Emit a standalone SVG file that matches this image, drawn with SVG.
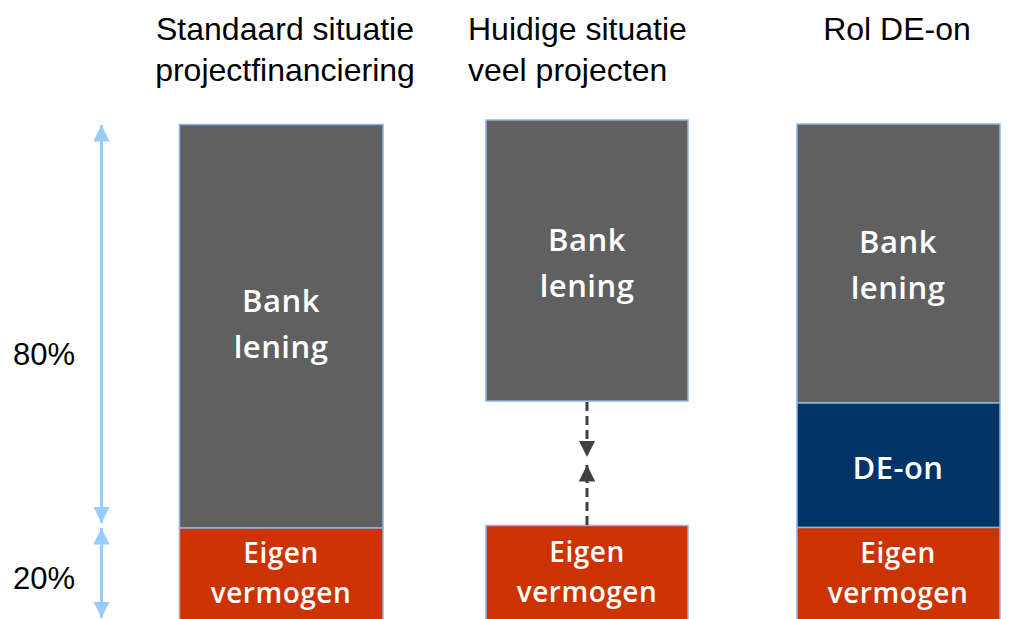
<svg xmlns="http://www.w3.org/2000/svg" width="1034" height="619" viewBox="0 0 1034 619">
<defs>
<style>
.title{font-family:"Liberation Sans",Arial,sans-serif;font-size:32px;fill:#000}
.pct{font-family:"Liberation Sans",Arial,sans-serif;font-size:31px;fill:#000}
.lbl{font-family:"Open Sans","Noto Sans",sans-serif;font-size:31px;font-weight:600;fill:#fff;text-anchor:middle;letter-spacing:0.5px}
.lbl2{font-family:"Open Sans","Noto Sans",sans-serif;font-size:28px;font-weight:600;fill:#fff;text-anchor:middle;letter-spacing:0.5px}
.bank{fill:#606060;stroke:#8EB4E3;stroke-width:1.5}
.eigen{fill:#CC3300;stroke:#8EB4E3;stroke-width:1.5}
.deon{fill:#003366;stroke:#8EB4E3;stroke-width:1.5}
.blue{stroke:#99CCFF;stroke-width:3;fill:none}
.dash{stroke:#404040;stroke-width:3;fill:none;stroke-dasharray:9,5}
</style>
<marker id="ab" viewBox="0 0 10 10" refX="10" refY="5" markerWidth="5.5" markerHeight="5.5" markerUnits="strokeWidth" orient="auto-start-reverse"><path d="M0,0 L10,5 L0,10 z" fill="#99CCFF"/></marker>
<marker id="ad" viewBox="0 0 10 10" refX="10" refY="5" markerWidth="5.5" markerHeight="5.5" markerUnits="strokeWidth" orient="auto"><path d="M0,0 L10,5 L0,10 z" fill="#404040"/></marker>
</defs>
<rect width="1034" height="619" fill="#fff"/>
<g id="titles">
<text class="title" x="285" y="40" text-anchor="middle">Standaard situatie</text>
<text class="title" x="285" y="81" text-anchor="middle">projectfinanciering</text>
<text class="title" x="468" y="40">Huidige situatie</text>
<text class="title" x="468" y="81">veel projecten</text>
<text class="title" x="897" y="40" text-anchor="middle">Rol DE-on</text>
</g>
<g id="percentages">
<text class="pct" x="13" y="365">80%</text>
<text class="pct" x="13" y="589">20%</text>
</g>
<g id="col1-bank">
<rect class="bank" x="179.5" y="124.5" width="203.5" height="403.5"/>
<text class="lbl" x="281" y="312">Bank</text>
<text class="lbl" x="281" y="358">lening</text>
</g>
<g id="col1-eigen">
<rect class="eigen" x="179.5" y="528" width="203.5" height="100"/>
<text class="lbl2" x="281" y="563">Eigen</text>
<text class="lbl2" x="281" y="603">vermogen</text>
</g>
<g id="col2-bank">
<rect class="bank" x="486" y="120" width="202" height="281"/>
<text class="lbl" x="587" y="251">Bank</text>
<text class="lbl" x="587" y="297">lening</text>
</g>
<g id="col2-eigen">
<rect class="eigen" x="486" y="525.5" width="202" height="100"/>
<text class="lbl2" x="587" y="562">Eigen</text>
<text class="lbl2" x="587" y="602">vermogen</text>
</g>
<g id="col3-bank">
<rect class="bank" x="797" y="124" width="203" height="279"/>
<text class="lbl" x="898" y="253">Bank</text>
<text class="lbl" x="898" y="299">lening</text>
</g>
<g id="col3-deon">
<rect class="deon" x="797" y="403" width="203" height="124.5"/>
<text class="lbl" x="898" y="479">DE-on</text>
</g>
<g id="col3-eigen">
<rect class="eigen" x="797" y="527.5" width="203" height="100"/>
<text class="lbl2" x="898" y="563">Eigen</text>
<text class="lbl2" x="898" y="603">vermogen</text>
</g>
<g id="connectors">
<line class="blue" x1="101.5" y1="125" x2="101.5" y2="523" marker-start="url(#ab)" marker-end="url(#ab)"/>
<line class="blue" x1="101.5" y1="528" x2="101.5" y2="618" marker-start="url(#ab)" marker-end="url(#ab)"/>
<line class="dash" x1="587" y1="402" x2="587" y2="457" marker-end="url(#ad)"/>
<line class="dash" x1="587" y1="525" x2="587" y2="465" marker-end="url(#ad)"/>
</g>
</svg>
